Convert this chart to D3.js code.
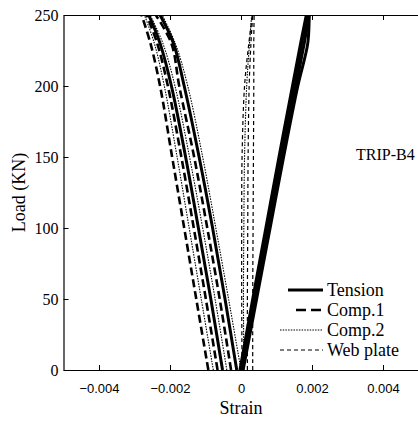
<!DOCTYPE html>
<html>
<head>
<meta charset="utf-8">
<script src="https://cdn.jsdelivr.net/npm/d3@7"></script>
<style>
  body { margin: 0; background: #fff; }
  svg { display: block; }
</style>
</head>
<body>
<div class="chart"></div>
<script>
var w = 418;
var h = 425;

// load levels (kN) at which strains were read
var loadLevels = [0, 50, 100, 150, 200, 230, 250];

// strain readings, one row per gauge curve
var tensionStrain = [
  [0, 0.00037, 0.00074, 0.00111, 0.00149, 0.00171, 0.00186],
  [-0.00003, 0.00033, 0.0007, 0.00107, 0.00145, 0.00168, 0.00184],
  [0.00003, 0.0004, 0.00078, 0.00116, 0.00155, 0.00178, 0.00192],
  [0.00006, 0.00044, 0.00082, 0.0012, 0.0016, 0.00188, 0.00192],
  [-0.00052, -0.00085, -0.0012, -0.00156, -0.00196, -0.00228, -0.0026],
  [-0.00012, -0.00045, -0.0008, -0.00118, -0.0016, -0.0019, -0.00228]
];
var comp1Strain = [
  [-0.00092, -0.00126, -0.0016, -0.00194, -0.00228, -0.00255, -0.0028],
  [-0.00066, -0.00099, -0.00133, -0.00168, -0.00206, -0.00236, -0.00266],
  [-0.00028, -0.0006, -0.00095, -0.00132, -0.00174, -0.00196, -0.0024]
];
var comp2Strain = [
  [-0.00078, -0.00112, -0.00146, -0.0018, -0.00216, -0.00244, -0.00272],
  [-0.0004, -0.00073, -0.00108, -0.00145, -0.00186, -0.0022, -0.00256],
  [0, -0.00035, -0.00071, -0.00108, -0.0015, -0.00185, -0.00222],
  [0.00008, 0.00007, 0.00008, 0.0001, 0.00016, 0.00024, 0.0003]
];
var webStrain = [
  [0.00003, 0.00002, 0.00002, 0.00003, 0.0001, 0.00022, 0.00032],
  [0.00018, 0.00018, 0.00019, 0.0002, 0.00023, 0.00028, 0.00033],
  [0.00033, 0.00033, 0.00034, 0.00035, 0.00036, 0.00036, 0.00037]
];

var seriesNames = ["Tension", "Comp.1", "Comp.2", "Web plate"];
var xTicks = [-0.004, -0.002, 0, 0.002, 0.004];
var yTicks = [0, 50, 100, 150, 200, 250];

var styles = {
  "Tension":   { width: 3,   dash: null },
  "Comp.1":    { width: 2.6, dash: "8,4" },
  "Comp.2":    { width: 1.1, dash: "1.5,1.2" },
  "Web plate": { width: 1.2, dash: "4,3" }
};
var allSeries = [tensionStrain, comp1Strain, comp2Strain, webStrain];

var pLeft = 63.5, pRight = 418.5, pTop = 15, pBottom = 370;

var xScale = d3.scaleLinear().domain([-0.005, 0.005]).range([pLeft, pRight]);
var yScale = d3.scaleLinear().domain([0, 250]).range([pBottom, pTop]);

var svg = d3.select(".chart")
            .append("svg")
            .attr("width", w)
            .attr("height", h);

svg.append("clipPath").attr("id", "plot")
   .append("rect")
   .attr("x", pLeft).attr("y", pTop)
   .attr("width", pRight - pLeft).attr("height", pBottom - pTop);

var line = d3.line()
             .x(function (d) { return xScale(d[0]); })
             .y(function (d) { return yScale(d[1]); })
             .curve(d3.curveCatmullRom);

var curves = svg.append("g").attr("clip-path", "url(#plot)");

allSeries.forEach(function (rows, i) {
  var st = styles[seriesNames[i]];
  curves.selectAll(null)
    .data(rows)
    .enter()
    .append("path")
    .attr("d", function (row) {
      return line(row.map(function (s, j) { return [s, loadLevels[j]]; }));
    })
    .attr("fill", "none")
    .attr("stroke", "#000")
    .attr("stroke-width", st.width)
    .attr("stroke-dasharray", st.dash);
});

// axes: ticks point inward
var fmtX = function (d) { return d === 0 ? "0" : d3.format(".3f")(d).replace("-", "\u2212"); };

svg.append("g")
   .attr("transform", "translate(0," + pBottom + ")")
   .call(d3.axisBottom(xScale).tickValues(xTicks).tickSizeInner(-5).tickSizeOuter(0).tickPadding(14).tickFormat(fmtX))
   .call(function (g) {
     g.selectAll("text").attr("font-family", "Liberation Sans, Arial, sans-serif").attr("font-size", "13px").attr("fill", "#000");
   });

svg.append("g")
   .attr("transform", "translate(0," + pTop + ")")
   .call(d3.axisTop(xScale).tickValues(xTicks).tickSizeInner(-5).tickSizeOuter(0).tickFormat(""));

svg.append("g")
   .attr("transform", "translate(" + pLeft + ",0)")
   .call(d3.axisLeft(yScale).tickValues(yTicks).tickSizeInner(-5).tickSizeOuter(0).tickPadding(5))
   .call(function (g) {
     g.selectAll("text").attr("font-family", "Liberation Serif, Times New Roman, serif").attr("font-size", "16px").attr("fill", "#000");
   });

svg.selectAll(".domain").attr("stroke", "#000").attr("stroke-width", 1.2);
svg.selectAll(".tick line").attr("stroke", "#000");

svg.append("text")
   .text("Strain")
   .attr("x", xScale(0))
   .attr("y", 414)
   .attr("text-anchor", "middle")
   .attr("font-family", "Liberation Serif, serif")
   .attr("font-size", "18px");

svg.append("text")
   .text("Load (KN)")
   .attr("transform", "translate(25," + yScale(125) + ") rotate(-90)")
   .attr("text-anchor", "middle")
   .attr("font-family", "Liberation Serif, serif")
   .attr("font-size", "18px");

svg.append("text")
   .text("TRIP-B4")
   .attr("x", 356)
   .attr("y", 160)
   .attr("font-family", "Liberation Serif, serif")
   .attr("font-size", "16px");

// legend
var legendStart = [288, 296, 280, 280];
var legend = svg.selectAll(".legend")
   .data(seriesNames)
   .enter()
   .append("g")
   .attr("transform", function (d, i) { return "translate(0," + (290 + i * 20) + ")"; });

legend.append("line")
   .attr("x1", function (d, i) { return legendStart[i]; })
   .attr("x2", 323)
   .attr("stroke", "#000")
   .attr("stroke-width", function (d) { return styles[d].width; })
   .attr("stroke-dasharray", function (d) { return d === "Comp.1" ? "10,5" : styles[d].dash; });

legend.append("text")
   .text(function (d) { return d; })
   .attr("x", 327)
   .attr("y", 6)
   .attr("font-family", "Liberation Serif, serif")
   .attr("font-size", "18px");
</script>
</body>
</html>
